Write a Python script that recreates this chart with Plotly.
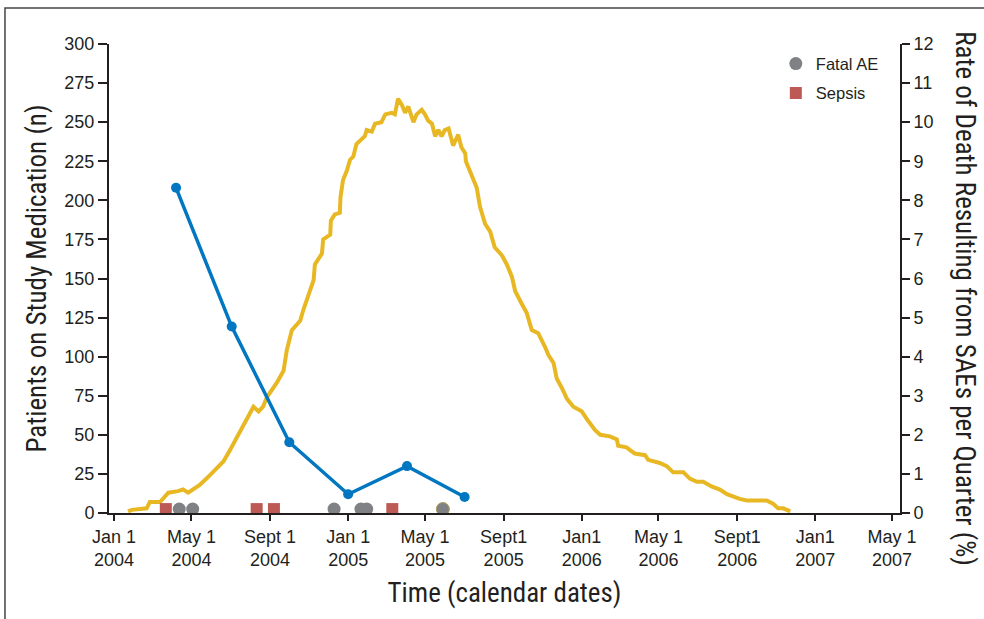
import pandas as pd
import plotly.graph_objects as go

# ---------------- data ----------------
# Patients on study medication (left axis); day offsets counted from Jan 1 2004
patients_day = [22, 28, 51, 56, 72, 85, 100, 108, 116, 124,
                134, 147, 161, 171, 181, 194, 207, 218, 226, 233,
                239, 254, 265, 270, 278, 291, 296, 306, 312, 314,
                325, 327, 338, 339, 345, 353, 354, 358, 364, 369,
                374, 379, 392, 395, 403, 408, 418, 424, 434, 439,
                444, 450, 455, 460, 468, 473, 481, 486, 491, 497,
                502, 507, 512, 517, 523, 530, 538, 543, 549, 550,
                556, 562, 567, 572, 580, 588, 595, 606, 614, 622,
                627, 637, 645, 653, 663, 674, 679, 687, 692, 700,
                708, 718, 731, 741, 752, 760, 775, 786, 788, 801,
                814, 830, 835, 853, 864, 874, 890, 900, 911, 921,
                934, 947, 958, 978, 989, 1020, 1030, 1038, 1046, 1057]
patients_n = [1, 2, 3, 7, 7, 13, 14, 15, 13, 15,
              18, 23, 29, 33, 40, 50, 59, 68, 65, 68,
              74, 83, 91, 104, 117, 123, 130, 141, 149, 159,
              166, 175, 178, 187, 191, 192, 202, 213, 219, 226,
              228, 236, 241, 245, 244, 249, 250, 255, 256, 255,
              265, 261, 256, 260, 250, 255, 258, 255, 251, 249,
              241, 245, 241, 245, 246, 235, 242, 234, 230, 225,
              219, 212, 208, 196, 185, 180, 170, 165, 159, 151,
              142, 134, 128, 117, 115, 106, 101, 96, 86, 80,
              73, 68, 65, 59, 53, 50, 49, 47, 43, 42,
              38, 37, 34, 32, 30, 26, 26, 22, 20, 20,
              17, 15, 12, 9, 8, 8, 6, 3, 3, 1]

# Rate of death from SAEs per quarter (right axis, %)
rate_dates = ["2004-04-07", "2004-07-03", "2004-10-01",
              "2005-01-01", "2005-04-03", "2005-07-02"]
rate_values = [8.32, 4.77, 1.81, 0.48, 1.20, 0.41]

# Event markers (plotted just above zero on the left axis)
fatal_dates = ["2004-04-12", "2004-05-03", "2004-12-10",
               "2005-01-21", "2005-01-30", "2005-05-29"]
sepsis_dates = ["2004-03-22", "2004-08-11", "2004-09-07", "2005-03-11"]
event_level = 2.5

# Axis ticks
tick_dates = ["2004-01-01", "2004-05-01", "2004-09-01", "2005-01-01",
              "2005-05-01", "2005-09-01", "2006-01-01", "2006-05-01",
              "2006-09-01", "2007-01-01", "2007-05-01"]
tick_text = ["Jan 1<br>2004", "May 1<br>2004", "Sept 1<br>2004",
             "Jan 1<br>2005", "May 1<br>2005", "Sept1<br>2005",
             "Jan1<br>2006", "May 1<br>2006", "Sept1<br>2006",
             "Jan1<br>2007", "May 1<br>2007"]

# ---------------- styles ----------------
YELLOW = "#E8B824"
BLUE = "#0077C0"
GRAY = "#808184"
RED = "#BE5A55"
INK = "#231F20"
TITLE_FONT = "Liberation Sans Narrow, Arial Narrow, Roboto Condensed, sans-serif"
TICK_FONT = "Liberation Sans, Arial, Helvetica, sans-serif"

start = pd.Timestamp("2004-01-01")
patients_dates = [start + pd.Timedelta(days=d) for d in patients_day]

fig = go.Figure()

fig.add_trace(go.Scatter(
    x=patients_dates, y=patients_n, mode="lines",
    line=dict(color=YELLOW, width=4), showlegend=False, yaxis="y"))

fig.add_trace(go.Scatter(
    x=rate_dates, y=rate_values, mode="lines+markers",
    line=dict(color=BLUE, width=3.5),
    marker=dict(color=BLUE, size=10), showlegend=False, yaxis="y2"))

fig.add_trace(go.Scatter(
    x=sepsis_dates, y=[event_level] * len(sepsis_dates), mode="markers",
    name="Sepsis", legendgroup="sepsis", legendrank=2,
    marker=dict(symbol="square", color=RED, size=12),
    yaxis="y"))

fig.add_trace(go.Scatter(
    x=fatal_dates, y=[event_level] * len(fatal_dates), mode="markers",
    name="Fatal AE", legendgroup="fatal", legendrank=1,
    marker=dict(symbol="circle", color=GRAY, size=13,
                line=dict(color=["rgba(0,0,0,0)"] * 5 + ["#A89C55"], width=1)),
    yaxis="y"))

fig.update_layout(
    width=984, height=619,
    margin=dict(l=109, r=84, t=44, b=106),
    paper_bgcolor="white", plot_bgcolor="white",
    font=dict(family=TICK_FONT, color=INK, size=18),
    showlegend=True,
    legend=dict(x=0.843, y=0.995, xanchor="left", yanchor="top",
                traceorder="grouped", tracegroupgap=5,
                font=dict(family=TICK_FONT, size=16.5, color=INK),
                bgcolor="rgba(0,0,0,0)", itemwidth=30),
    xaxis=dict(
        range=["2003-12-24 05:00", "2007-05-13 12:00"],
        tickmode="array", tickvals=tick_dates, ticktext=tick_text,
        ticks="outside", ticklen=6, tickwidth=1.5, tickcolor=INK,
        showline=True, linecolor=INK, linewidth=2,
        showgrid=False, zeroline=False,
        tickfont=dict(family=TICK_FONT, size=18, color=INK),
        title=dict(text="Time (calendar dates)",
                   font=dict(family=TITLE_FONT, size=27, color=INK),
                   standoff=14),
    ),
    yaxis=dict(
        range=[0, 300], tickmode="linear", tick0=0, dtick=25,
        ticks="outside", ticklen=9, tickwidth=1.5, tickcolor=INK,
        showline=True, linecolor=INK, linewidth=2,
        showgrid=False, zeroline=False,
        tickfont=dict(family=TICK_FONT, size=18, color=INK),
        title=dict(text="Patients on Study Medication (n)",
                   font=dict(family=TITLE_FONT, size=27, color=INK),
                   standoff=10),
    ),
    yaxis2=dict(
        range=[0, 12], tickmode="linear", tick0=0, dtick=1,
        overlaying="y", side="right", anchor="x",
        ticks="outside", ticklen=8, tickwidth=1.5, tickcolor=INK,
        showline=True, linecolor=INK, linewidth=2,
        showgrid=False, zeroline=False,
        tickfont=dict(family=TICK_FONT, size=18, color=INK),
    ),
    annotations=[dict(
        text="Rate of Death Resulting from SAEs per Quarter (%)",
        xref="paper", yref="paper", x=1.0822, y=0.458,
        xanchor="center", yanchor="middle", textangle=90, showarrow=False,
        font=dict(family=TITLE_FONT, size=27, color=INK))],
    shapes=[dict(type="rect", xref="paper", yref="paper",
                 x0=-0.1315, x1=1.2, y0=-0.3, y1=1.0768,
                 line=dict(color="#444444", width=1.5), layer="below")],
)

fig.write_html("out.html")
